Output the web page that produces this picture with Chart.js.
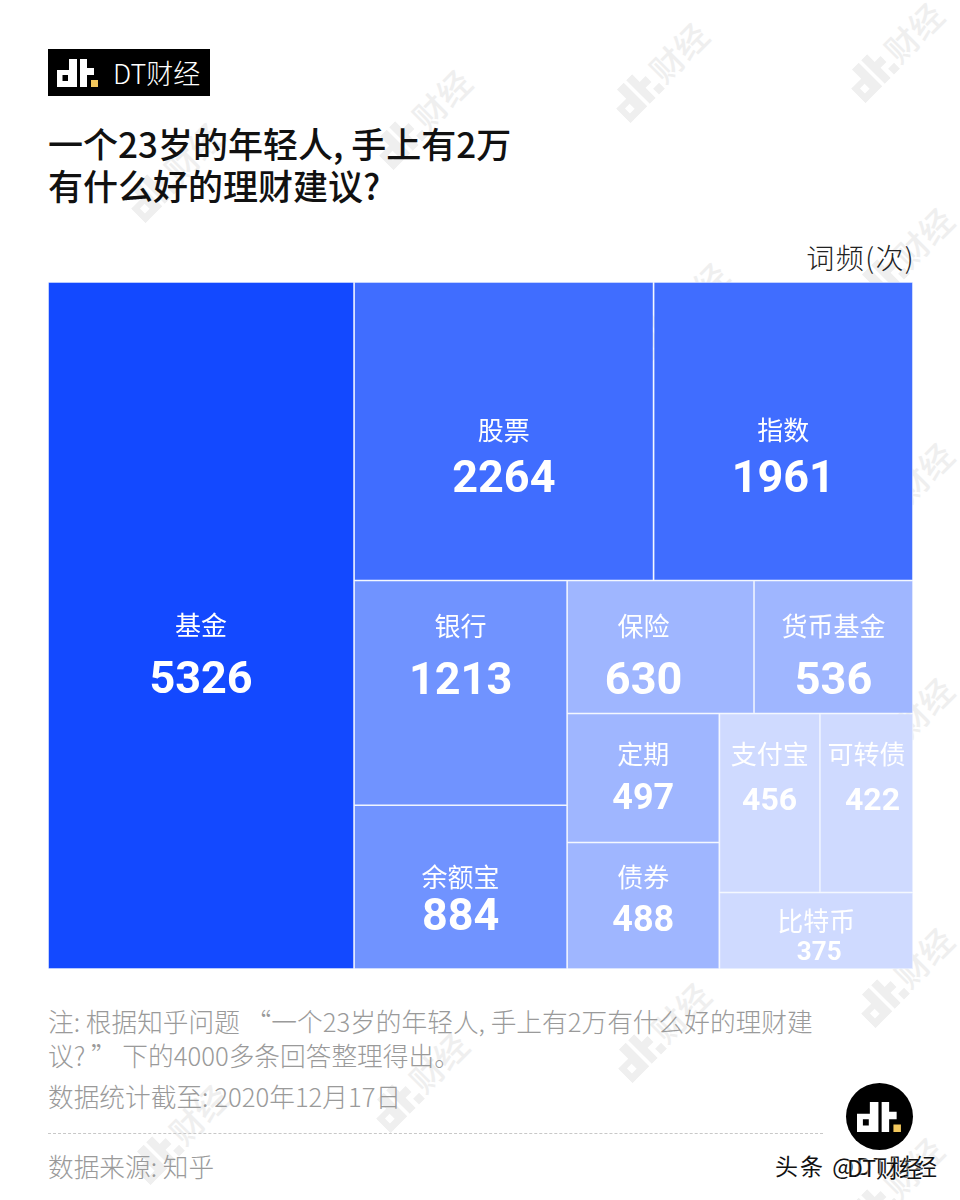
<!DOCTYPE html>
<html lang="zh">
<head>
<meta charset="utf-8">
<title>理财建议词频</title>
<script src="https://cdn.jsdelivr.net/npm/chart.js@4"></script>
<style>
html, body { margin: 0; padding: 0; background: #fff; }
body { width: 960px; height: 1200px; position: relative; overflow: hidden; font-family: "Noto Sans CJK SC", sans-serif; }
.abs { position: absolute; white-space: nowrap; }
#brand { left: 48px; top: 49px; width: 162px; height: 47px; background: #000; }
#brand svg { position: absolute; left: 9px; top: 10px; }
#brand span { position: absolute; left: 65px; top: 0; line-height: 47px; font-size: 27px; font-weight: 300; color: #fff; }
.title { left: 48px; font-size: 35px; font-weight: 500; color: #111; line-height: 42px; }
#unit { right: 45px; top: 239px; font-size: 28px; line-height: 36px; font-weight: 300; color: #222; letter-spacing: 1.4px; }
#treemap { position: absolute; left: 48px; top: 282px; width: 865px; height: 687px; }
.note { left: 48px; font-size: 25.7px; line-height: 34px; font-weight: 300; color: #9a9a9a; }
#rule { position: absolute; left: 48px; top: 1133px; width: 775px; border-top: 1px dashed #c8c8c8; }
#badge { position: absolute; left: 846px; top: 1083px; width: 67px; height: 67px; border-radius: 50%; background: #000; }
#badge svg { position: absolute; left: 11px; top: 17px; }
.stamp { font-size: 23px; line-height: 30px; color: #111; text-shadow: 0 0 2px #fff, 0 0 2px #fff; }
.wm { position: absolute; transform: translate(-50%, -50%) rotate(-45deg); display: flex; align-items: center; gap: 1px; color: #efefef; font-size: 33px; font-weight: 500; line-height: 40px; white-space: nowrap; }
</style>
</head>
<body>
<svg width="0" height="0" style="position:absolute">
  <defs>
    <g id="dt">
      <path d="M12 0h8v28H0V11h12zM5.5 16v6H11v-6z" fill-rule="evenodd"/>
      <path d="M23 0h7v9h7v7h-7v12h-7z"/>
    </g>
  </defs>
</svg>
<div id="marks"></div>

<div id="brand" class="abs">
  <svg width="42" height="28" viewBox="0 0 42 28" fill="#fff"><use href="#dt"/><rect x="34" y="21" width="7" height="7" fill="#f2c75c"/></svg>
  <span>DT财经</span>
</div>
<div class="abs title" style="top:122px">一个23岁的年轻人, 手上有2万</div>
<div class="abs title" style="top:164px">有什么好的理财建议?</div>
<div id="unit" class="abs">词频(次)</div>

<canvas id="treemap" width="865" height="687"></canvas>

<div class="abs note" style="top:1004px">注: 根据知乎问题 “一个23岁的年轻人, 手上有2万有什么好的理财建</div>
<div class="abs note" style="top:1038px">议? ” 下的4000多条回答整理得出。</div>
<div class="abs note" style="top:1079px">数据统计截至: 2020年12月17日</div>
<div id="rule"></div>
<div class="abs note" style="top:1149px">数据来源: 知乎</div>

<div id="badge">
  <svg width="45" height="34" viewBox="0 0 42 28" fill="#fff"><use href="#dt"/><rect x="34" y="21" width="7" height="7" fill="#f2c75c"/></svg>
</div>
<div class="abs stamp" style="left:775px;top:1150px;letter-spacing:2px">头条 @DT财经</div>
<div class="abs stamp" style="left:847px;top:1152px">DT财经</div>

<script>
// words and how often each shows up in the answers
const categories = ['基金', '股票', '指数', '银行', '余额宝', '保险', '货币基金', '定期', '债券', '支付宝', '可转债', '比特币'];
const counts = [5326, 2264, 1961, 1213, 884, 630, 536, 497, 488, 456, 422, 375];

// how the cells nest: h = side by side, v = stacked, numbers index into categories
const nesting = ['h', 0, ['v',
    ['h', 1, 2],
    ['h',
        ['v', 3, 4],
        ['v',
            ['h', 5, 6],
            ['h',
                ['v', 7, 8],
                ['v', ['h', 9, 10], 11],
            ],
        ],
    ],
]];

// colour tier of each cell
const tiers = [0, 1, 1, 2, 2, 3, 3, 3, 3, 4, 4, 4];
const tierColors = ['#1349ff', '#406dff', '#7093ff', '#9fb6ff', '#cfdaff'];

// label placement per cell: name y, value y (px below cell top), value size, name x shift, value x shift
const labelPlacement = [
    [343, 400, 45, 0, 0],
    [148, 199, 45, 0, 0],
    [148, 199, 45, 0, 0],
    [46, 102, 45, 0, 0],
    [72, 114, 45, 0, 0],
    [46, 102, 45, -17, -17],
    [46, 102, 45, 0, 0],
    [41, 86, 36, 0, 0],
    [35, 80, 36, 0, 0],
    [41, 88, 32, 0, 0],
    [41, 88, 32, 0, 6],
    [29, 61, 26, 0, 3],
];

function weight(node) {
    if (typeof node === 'number') return counts[node];
    return node.slice(1).reduce((sum, child) => sum + weight(child), 0);
}

// turn the nesting into cells in 0..1 scale units
function sliceCells(node, x0, y0, x1, y1, out) {
    if (typeof node === 'number') {
        out[node] = { x: x0, y: y0, x1: x1, y1: y1 };
        return out;
    }
    const total = weight(node);
    let pos = node[0] === 'h' ? x0 : y0;
    node.slice(1).forEach(child => {
        const share = weight(child) / total;
        if (node[0] === 'h') {
            const end = pos + share * (x1 - x0);
            sliceCells(child, pos, y0, end, y1, out);
            pos = end;
        } else {
            const end = pos + share * (y1 - y0);
            sliceCells(child, x0, pos, x1, end, out);
            pos = end;
        }
    });
    return out;
}

class TreemapController extends Chart.DatasetController {
    update(mode) {
        const meta = this._cachedMeta;
        this.updateElements(meta.data, 0, meta.data.length, mode);
    }
    updateElements(cells, start, count, mode) {
        const meta = this._cachedMeta;
        const data = this.getDataset().data;
        for (let i = start; i < start + count; i++) {
            const d = data[i];
            const left = meta.xScale.getPixelForValue(d.x);
            const right = meta.xScale.getPixelForValue(d.x1);
            const top = meta.yScale.getPixelForValue(d.y);
            const bottom = meta.yScale.getPixelForValue(d.y1);
            this.updateElement(cells[i], i, {
                x: (left + right) / 2,
                y: top,
                base: bottom,
                width: right - left,
                height: bottom - top,
                horizontal: false,
                inflateAmount: 0,
                borderSkipped: {},
                options: this.resolveDataElementOptions(i, mode),
            }, mode);
        }
    }
}
TreemapController.id = 'treemap';
TreemapController.defaults = { dataElementType: 'bar' };
Chart.register(TreemapController);

const cellLabels = {
    id: 'cellLabels',
    afterDatasetsDraw(chart) {
        const ctx = chart.ctx;
        const rows = chart.getDatasetMeta(0).data;
        ctx.save();
        ctx.fillStyle = '#fff';
        ctx.textAlign = 'center';
        ctx.textBaseline = 'middle';
        rows.forEach((cell, i) => {
            const [nameY, valueY, valueSize, nameShift, valueShift] = labelPlacement[i];
            ctx.font = '400 26px "Noto Sans CJK SC"';
            ctx.fillText(categories[i], cell.x + nameShift, cell.y + nameY);
            ctx.font = `700 ${valueSize}px Roboto`;
            ctx.fillText(String(counts[i]), cell.x + valueShift, cell.y + valueY);
        });
        ctx.restore();
    },
};

new Chart(document.getElementById('treemap'), {
    type: 'treemap',
    data: {
        labels: categories,
        datasets: [{
            label: '词频(次)',
            data: sliceCells(nesting, 0, 0, 1, 1, []),
            parsing: false,
            backgroundColor: tiers.map(t => tierColors[t]),
            borderColor: 'rgba(232, 238, 255, 0.95)',
            borderWidth: 0.8,
        }],
    },
    options: {
        responsive: false,
        animation: false,
        events: [],
        layout: { padding: 0 },
        scales: {
            x: { type: 'linear', min: 0, max: 1, display: false },
            y: { type: 'linear', min: 0, max: 1, reverse: true, display: false },
        },
        plugins: { legend: { display: false }, tooltip: { enabled: false } },
    },
    plugins: [cellLabels],
});

// faint brand marks behind everything
const markSpots = [[175, 170], [423, 117], [660, 70], [895, 50], [905, 255], [680, 310], [905, 490], [905, 725],
    [905, 975], [662, 1030], [420, 1080], [180, 1132], [895, 1185]];
const marks = document.getElementById('marks');
markSpots.forEach(([x, y]) => {
    const el = document.createElement('div');
    el.className = 'wm';
    el.style.left = x + 'px';
    el.style.top = y + 'px';
    el.innerHTML = '<svg width="50" height="34" viewBox="0 0 42 28" fill="#efefef"><use href="#dt"/><rect x="34" y="21" width="7" height="7"/></svg><span>财经</span>';
    marks.appendChild(el);
});
</script>
</body>
</html>
